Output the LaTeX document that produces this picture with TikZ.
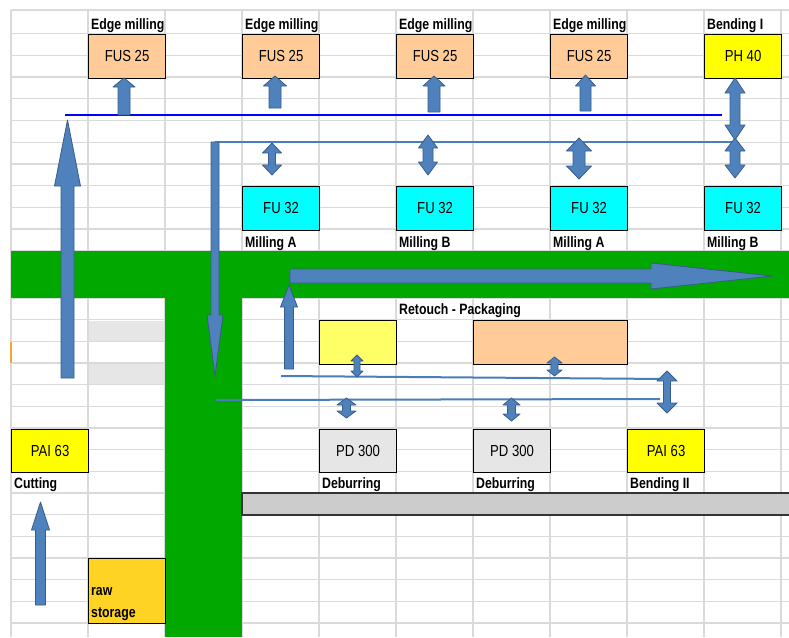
\documentclass[tikz,border=0pt]{standalone}
\usepackage{fontspec}
\setmainfont{Liberation Sans}[FakeStretch=0.82]
\definecolor{arrfill}{HTML}{4F81BD}
\definecolor{arrline}{HTML}{385D8A}
\definecolor{pureblue}{HTML}{0000FF}
\definecolor{steel}{HTML}{4A7EBB}
\definecolor{peach}{HTML}{FFCC99}
\definecolor{cyanbox}{HTML}{00FFFF}
\definecolor{yel}{HTML}{FFFF00}
\definecolor{lyel}{HTML}{FFFF66}
\definecolor{lgray}{HTML}{E6E6E6}
\definecolor{goldbox}{HTML}{FFD324}
\definecolor{grn}{HTML}{00A800}
\definecolor{gridc}{HTML}{DADADA}
\definecolor{barg}{HTML}{CCCCCC}
\definecolor{seltick}{HTML}{F0A830}
\newcommand\blkup[6]{% x, ybottom, ytip, shaft half, head half, head length
  \filldraw[blk] ({#1-#4},#2) -- ({#1-#4},{#3+#6}) -- ({#1-#5},{#3+#6}) -- (#1,#3)
    -- ({#1+#5},{#3+#6}) -- ({#1+#4},{#3+#6}) -- ({#1+#4},#2) -- cycle;}
\newcommand\blkdown[6]{% x, ytop, ytip, shaft half, head half, head length
  \filldraw[blk] ({#1-#4},#2) -- ({#1-#4},{#3-#6}) -- ({#1-#5},{#3-#6}) -- (#1,#3)
    -- ({#1+#5},{#3-#6}) -- ({#1+#4},{#3-#6}) -- ({#1+#4},#2) -- cycle;}
\newcommand\blkdbl[6]{% x, ytop, ybottom, shaft half, head half, head length
  \filldraw[blk] (#1,#2) -- ({#1+#5},{#2+#6}) -- ({#1+#4},{#2+#6}) -- ({#1+#4},{#3-#6})
    -- ({#1+#5},{#3-#6}) -- (#1,#3) -- ({#1-#5},{#3-#6}) -- ({#1-#4},{#3-#6})
    -- ({#1-#4},{#2+#6}) -- ({#1-#5},{#2+#6}) -- cycle;}
\begin{document}
\begin{tikzpicture}[x=1pt,y=-1pt,
  blk/.style={fill=arrfill,draw=arrline,line width=0.8pt,line join=round},
  gridl/.style={draw=gridc,line width=1.3pt},
  box/.style={draw=black,line width=1.2pt,minimum width=77pt,minimum height=43.5pt,
    inner sep=0pt,anchor=north west,font=\fontsize{16}{18}\selectfont},
  lbl/.style={inner sep=0pt,anchor=base west,font=\bfseries\fontsize{15}{17}\selectfont},
  conn/.style={draw=steel,line width=2pt}]
\useasboundingbox (0,0) rectangle (789,637);
\fill[white] (0,0) rectangle (789,637);
% spreadsheet grid
\draw[draw=gridc,line width=2.5pt] (11,10) -- (789,10);
\foreach \x in {11,88,165,242,319,396,473,550,627,704,781}
  \draw[gridl] (\x,10) -- (\x,637);
\foreach \k in {1,...,11}
  \draw[gridl] (11,{12+21.7*\k}) -- (789,{12+21.7*\k});
\foreach \k in {0,...,15}
  \draw[gridl] (11,{298+21.67*\k}) -- (789,{298+21.67*\k});
% shaded cells
\fill[lgray] (88.7,320.7) rectangle (164.3,341.3);
\fill[lgray] (88.7,363.7) rectangle (164.3,384.3);
\draw[seltick,line width=1.6pt] (11,342) -- (11,363);
% green aisles
\fill[grn] (11,251) rectangle (789,298);
\fill[grn] (165,251) rectangle (242,637);
% gray bar
\filldraw[fill=barg,draw=black!80,line width=1.6pt] (789,493) -- (242,493) -- (242,515) -- (789,515);
% boxes
\node[box,fill=peach] (fus1) at (88,34) {FUS 25};
\node[box,fill=peach] (fus2) at (242,34) {FUS 25};
\node[box,fill=peach] (fus3) at (396,34) {FUS 25};
\node[box,fill=peach] (fus4) at (550,34) {FUS 25};
\node[box,fill=yel] (ph) at (704,34) {PH 40};
\node[box,fill=cyanbox] (fu1) at (242,186) {FU 32};
\node[box,fill=cyanbox] (fu2) at (396,186) {FU 32};
\node[box,fill=cyanbox] (fu3) at (550,186) {FU 32};
\node[box,fill=cyanbox] (fu4) at (704,186) {FU 32};
\node[box,fill=lyel] (ret) at (319,320) {};
\node[box,fill=peach,minimum width=154pt] (pack) at (473,320) {};
\node[box,fill=lgray] (pd1) at (319,428.5) {PD 300};
\node[box,fill=lgray] (pd2) at (473,428.5) {PD 300};
\node[box,fill=yel] (pai2) at (627,428.5) {PAI 63};
\node[box,fill=yel] (pai1) at (11,428.5) {PAI 63};
\node[box,fill=goldbox,minimum height=65pt] (raw) at (88,558) {};
% labels
\node[lbl] (l1) at (91,29) {Edge milling};
\node[lbl] (l2) at (245,29) {Edge milling};
\node[lbl] (l3) at (399,29) {Edge milling};
\node[lbl] (l4) at (553,29) {Edge milling};
\node[lbl] (l5) at (707,29) {Bending I};
\node[lbl] (m1) at (245,247) {Milling A};
\node[lbl] (m2) at (399,247) {Milling B};
\node[lbl] (m3) at (553,247) {Milling A};
\node[lbl] (m4) at (707,247) {Milling B};
\node[lbl] (rp) at (399,314) {Retouch - Packaging};
\node[lbl] (c1) at (14,488) {Cutting};
\node[lbl] (d1) at (322,488) {Deburring};
\node[lbl] (d2) at (476,488) {Deburring};
\node[lbl] (b2) at (630,488) {Bending II};
\node[lbl] (r1) at (91,595) {raw};
\node[lbl] (r2) at (91,617) {storage};
% conveyor lines
\coordinate (bw) at (65,115);  \coordinate (be) at (722,115);
\coordinate (sw) at (215,142); \coordinate (se) at (736,142);
\coordinate (aw) at (281,376); \coordinate (ae) at (667,379);
\coordinate (cw) at (216,400); \coordinate (ce) at (660,399);
\draw[draw=pureblue,line width=2.2pt] (bw) -- (be);
\draw[conn] (sw) -- (se);
\draw[conn] (aw) -- (ae);
\draw[conn] (cw) -- (ce);
% block arrows
\blkup{67.5}{378}{120}{6.5}{13}{66}
\blkdown{215}{142}{376}{4}{8}{61}
\blkup{289}{369}{285}{4.5}{8.5}{22}
\filldraw[blk] (290,269) -- (651,269) -- (651,263) -- (772,276) -- (651,289) -- (651,283) -- (290,283) -- cycle;
\blkup{40.5}{605}{502}{5}{9}{28}
\blkup{124}{115}{78}{6}{11}{9}
\blkup{275}{108}{76}{6}{11.5}{10}
\blkup{434}{112}{76}{6}{11}{10}
\blkup{585.5}{111}{75}{5.5}{10}{11}
\blkdbl{735}{78}{140}{5}{10}{15}
\blkdbl{735}{138}{178}{5}{10}{13}
\blkdbl{272}{143}{175}{3.5}{9.5}{10}
\blkdbl{428}{135}{175}{5}{9.5}{13}
\blkdbl{579}{138}{179}{6}{12.5}{13}
\blkdbl{357}{355}{377}{3}{6}{6}
\blkdbl{554.5}{357}{376}{3.5}{7.5}{6}
\blkdbl{346.5}{398}{418}{4}{9.5}{7}
\blkdbl{511.5}{398}{421}{4}{8.5}{7}
\blkdbl{667}{371}{413}{3.5}{10}{10}
\end{tikzpicture}
\end{document}
